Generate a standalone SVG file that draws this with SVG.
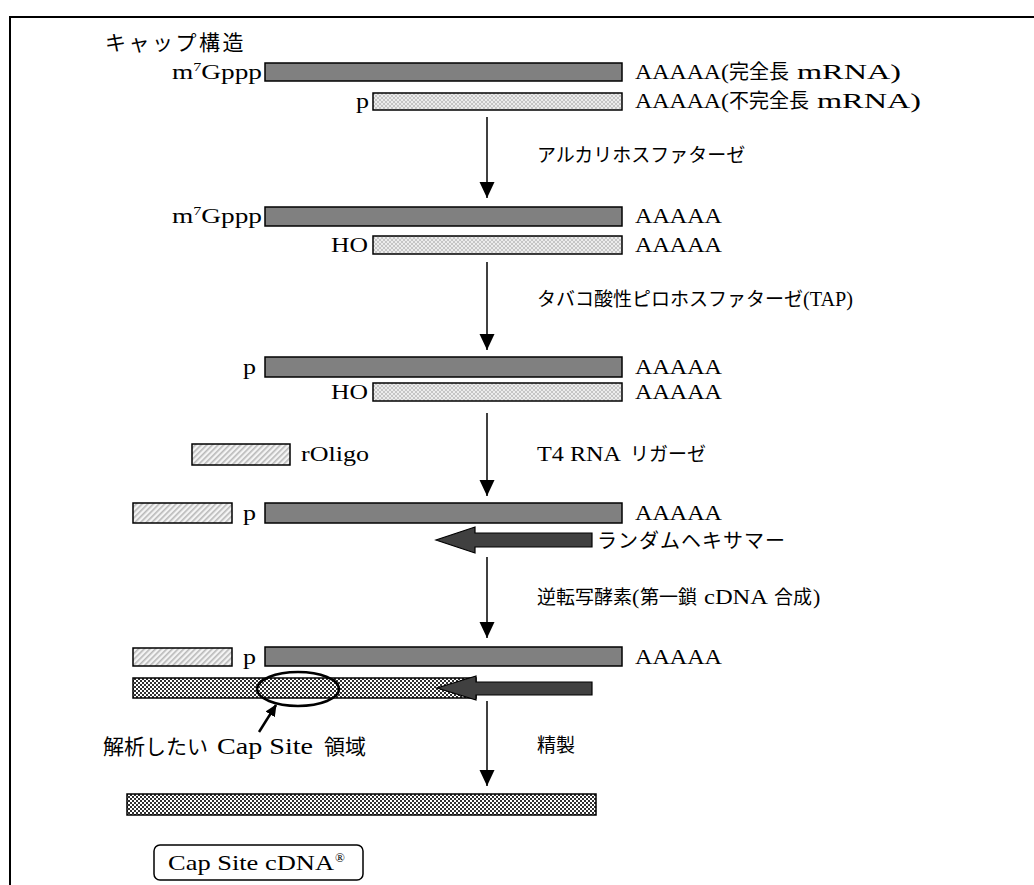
<svg xmlns="http://www.w3.org/2000/svg" width="1034" height="885" viewBox="0 0 1034 885">
<style>
.sf{font-family:"Liberation Serif","Noto Sans CJK JP",serif;font-size:22px;fill:#000}
.jp{font-family:"Noto Sans CJK JP","Noto Sans",sans-serif;font-size:19px;fill:#000}
.dk{fill:#808080;stroke:#000;stroke-width:1.5}
.lt{fill:url(#ltp);stroke:#000;stroke-width:1.5}
.ht{fill:url(#htp);stroke:#000;stroke-width:1.5}
.ck{fill:url(#ckp);stroke:#000;stroke-width:1.5}
.ar{stroke:#000;stroke-width:1.5;fill:none;marker-end:url(#ah)}
.big{fill:#404040;stroke:#000;stroke-width:1.2}
</style>
<defs>
<pattern id="ltp" width="4" height="4" patternUnits="userSpaceOnUse">
<rect width="4" height="4" fill="#ececec"/>
<path d="M0,0L4,4M4,0L0,4" stroke="#b4b4b4" stroke-width="0.7"/>
</pattern>
<pattern id="htp" width="4" height="4" patternUnits="userSpaceOnUse" patternTransform="rotate(45)">
<rect width="4" height="4" fill="#f4f4f4"/>
<rect width="1.6" height="4" fill="#b8b8b8"/>
</pattern>
<pattern id="ckp" width="4" height="4" patternUnits="userSpaceOnUse">
<rect width="4" height="4" fill="#ffffff"/>
<rect width="2" height="2" fill="#303030"/>
<rect x="2" y="2" width="2" height="2" fill="#303030"/>
</pattern>
<marker id="ah" markerUnits="userSpaceOnUse" markerWidth="16" markerHeight="16" viewBox="0 0 16 16" refX="16" refY="8" orient="auto">
<path d="M0,0.5L16,8L0,15.5Z" fill="#000"/>
</marker>
<marker id="ah2" markerUnits="userSpaceOnUse" markerWidth="12" markerHeight="12" viewBox="0 0 12 12" refX="11" refY="6" orient="auto">
<path d="M0,0.5L12,6L0,11.5Z" fill="#000"/>
</marker>
</defs>
<rect x="10" y="17" width="1040" height="890" fill="#fff" stroke="#000" stroke-width="2"/>

<text class="jp" x="105" y="50" style="font-size:21px" letter-spacing="2.5">キャップ構造</text>

<g id="row1">
<text class="sf" x="172" y="79" textLength="90" lengthAdjust="spacingAndGlyphs">m<tspan font-size="13" dy="-8">7</tspan><tspan dy="8">Gppp</tspan></text>
<rect class="dk" x="265" y="63" width="357" height="18"/>
<text class="sf" x="635" y="79" textLength="94" lengthAdjust="spacingAndGlyphs">AAAAA(</text>
<text class="jp" x="729" y="79" style="font-size:20px">完全長</text>
<text class="sf" x="797" y="79" textLength="104" lengthAdjust="spacingAndGlyphs">mRNA)</text>
</g>
<g id="row2">
<text class="sf" x="356" y="108" textLength="13" lengthAdjust="spacingAndGlyphs">p</text>
<rect class="lt" x="373" y="93" width="249" height="17"/>
<text class="sf" x="635" y="108" textLength="94" lengthAdjust="spacingAndGlyphs">AAAAA(</text>
<text class="jp" x="729" y="108" style="font-size:20px">不完全長</text>
<text class="sf" x="817" y="108" textLength="104" lengthAdjust="spacingAndGlyphs">mRNA)</text>
</g>

<g id="row3">
<text class="sf" x="172" y="223" textLength="90" lengthAdjust="spacingAndGlyphs">m<tspan font-size="13" dy="-8">7</tspan><tspan dy="8">Gppp</tspan></text>
<rect class="dk" x="265" y="207" width="357" height="19"/>
<text class="sf" x="635" y="223" textLength="87" lengthAdjust="spacingAndGlyphs">AAAAA</text>
</g>
<g id="row4">
<text class="sf" x="331" y="252" textLength="37" lengthAdjust="spacingAndGlyphs">HO</text>
<rect class="lt" x="373" y="236" width="249" height="18"/>
<text class="sf" x="635" y="252" textLength="87" lengthAdjust="spacingAndGlyphs">AAAAA</text>
</g>

<g id="row5">
<text class="sf" x="243" y="374" textLength="13" lengthAdjust="spacingAndGlyphs">p</text>
<rect class="dk" x="265" y="357" width="357" height="20"/>
<text class="sf" x="635" y="374" textLength="87" lengthAdjust="spacingAndGlyphs">AAAAA</text>
</g>
<g id="row6">
<text class="sf" x="331" y="399" textLength="37" lengthAdjust="spacingAndGlyphs">HO</text>
<rect class="lt" x="373" y="383" width="249" height="18"/>
<text class="sf" x="635" y="399" textLength="87" lengthAdjust="spacingAndGlyphs">AAAAA</text>
</g>

<g id="roligo">
<rect class="ht" x="192" y="444" width="98" height="21"/>
<text class="sf" x="301" y="461" textLength="68" lengthAdjust="spacingAndGlyphs">rOligo</text>
</g>

<g id="row7">
<rect class="ht" x="133" y="503" width="99" height="20"/>
<text class="sf" x="243" y="520" textLength="13" lengthAdjust="spacingAndGlyphs">p</text>
<rect class="dk" x="265" y="503" width="357" height="20"/>
<text class="sf" x="635" y="520" textLength="87" lengthAdjust="spacingAndGlyphs">AAAAA</text>
</g>

<g id="hexamer">
<polygon class="big" points="592,533 475,533 475,527 436,540 475,553 475,547 592,547"/>
<text class="jp" x="597" y="548" style="font-size:20px" letter-spacing="1">ランダムヘキサマー</text>
</g>

<g id="row8">
<rect class="ht" x="133" y="648" width="99" height="18"/>
<text class="sf" x="243" y="664" textLength="13" lengthAdjust="spacingAndGlyphs">p</text>
<rect class="dk" x="265" y="647" width="357" height="19"/>
<text class="sf" x="635" y="664" textLength="87" lengthAdjust="spacingAndGlyphs">AAAAA</text>
</g>

<g id="row9">
<rect class="ck" x="133" y="678" width="343" height="20"/>
<polygon class="big" points="592,682 476,682 476,676 437,688 476,700 476,695 592,695"/>
<ellipse cx="298" cy="689" rx="41" ry="17" fill="none" stroke="#000" stroke-width="2.5"/>
</g>

<g id="capsite-label">
<text class="jp" x="103" y="754" style="font-size:21px">解析したい</text>
<text class="sf" x="217" y="754" style="font-size:23px" textLength="96" lengthAdjust="spacingAndGlyphs">Cap Site</text>
<text class="jp" x="324" y="754" style="font-size:21px">領域</text>
</g>

<g id="final">
<rect class="ck" x="127" y="794" width="469" height="21"/>
</g>

<g id="product">
<rect x="154" y="845" width="209" height="35" rx="6" fill="#fff" stroke="#000" stroke-width="1.5"/>
<text class="sf" x="168" y="870" textLength="166" lengthAdjust="spacingAndGlyphs">Cap Site cDNA</text>
<text class="sf" x="335" y="862" style="font-size:13px">®</text>
</g>

<g id="steps">
<text class="jp" x="537" y="162">アルカリホスファターゼ</text>
<text class="jp" x="537" y="306">タバコ酸性ピロホスファターゼ</text>
<text class="sf" x="803" y="306" textLength="50" lengthAdjust="spacingAndGlyphs">(TAP)</text>
<text class="sf" x="537" y="461" textLength="84" lengthAdjust="spacingAndGlyphs">T4 RNA</text>
<text class="jp" x="630" y="461">リガーゼ</text>
<text class="jp" x="537" y="604">逆転写酵素</text>
<text class="sf" x="632" y="604">(</text>
<text class="jp" x="640" y="604">第一鎖</text>
<text class="sf" x="704" y="604" textLength="64" lengthAdjust="spacingAndGlyphs">cDNA</text>
<text class="jp" x="774" y="604">合成</text>
<text class="sf" x="813" y="604">)</text>
<text class="jp" x="537" y="752">精製</text>
</g>

<g id="connectors">
<line class="ar" x1="487" y1="117" x2="487" y2="198"/>
<line class="ar" x1="487" y1="262" x2="487" y2="350"/>
<line class="ar" x1="487" y1="413" x2="487" y2="496"/>
<line class="ar" x1="487" y1="557" x2="487" y2="638"/>
<line class="ar" x1="487" y1="701" x2="487" y2="786"/>
<line x1="259" y1="732" x2="276" y2="705" stroke="#000" stroke-width="2.5" marker-end="url(#ah2)"/>
</g>
</svg>
